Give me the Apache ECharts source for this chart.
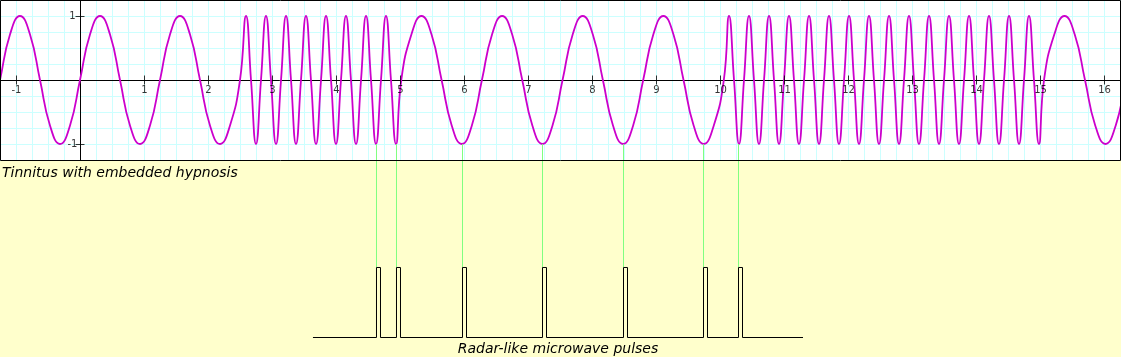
<!DOCTYPE html>
<html><head><meta charset="utf-8">
<script src="https://cdn.jsdelivr.net/npm/echarts@6/dist/echarts.min.js"></script>
<style>html,body{margin:0;padding:0;background:#ffffcc}#c{width:1121px;height:357px}</style>
</head><body><div id="c"></div>
<script>
// ---- data ----
const xTickLabels = [-1,1,2,3,4,5,6,7,8,9,10,11,12,13,14,15,16];
const yTickLabels = [-1,1];

const slowWave1 = [[-1.563,-1],[-1.406,-0.71],[-1.25,0],[-1.094,0.71],[-0.938,1],[-0.781,0.71],[-0.625,0],[-0.469,-0.71],[-0.313,-1],[-0.156,-0.71],[0,0],[0.156,0.71],[0.313,1],[0.469,0.71],[0.625,0],[0.781,-0.71],[0.938,-1],[1.094,-0.71],[1.25,0],[1.406,0.71],[1.563,1],[1.719,0.71],[1.875,0],[2.031,-0.71],[2.188,-1],[2.344,-0.71],[2.5,0]];

const fastWave1 = [[2.594,1],[2.672,0],[2.75,-1],[2.828,0],[2.906,1],[2.984,0],[3.063,-1],[3.141,0],[3.219,1],[3.297,0],[3.375,-1],[3.453,0],[3.531,1],[3.609,0],[3.688,-1],[3.766,0],[3.844,1],[3.922,0],[4.0,-1],[4.078,0],[4.156,1],[4.234,0],[4.313,-1],[4.391,0],[4.469,1],[4.547,0],[4.625,-1],[4.703,0],[4.781,1],[4.859,0],[4.938,-1]];

const slowWave2 = [[5.02,0],[5.178,0.71],[5.335,1],[5.493,0.71],[5.65,0],[5.808,-0.71],[5.965,-1],[6.123,-0.71],[6.28,0],[6.438,0.71],[6.595,1],[6.753,0.71],[6.91,0],[7.068,-0.71],[7.225,-1],[7.383,-0.71],[7.54,0],[7.698,0.71],[7.855,1],[8.013,0.71],[8.17,0],[8.328,-0.71],[8.485,-1],[8.643,-0.71],[8.8,0],[8.958,0.71],[9.115,1],[9.273,0.71],[9.43,0],[9.588,-0.71],[9.745,-1],[9.903,-0.71],[10.06,0]];

const fastWave2 = [[10.141,1],[10.219,0],[10.297,-1],[10.375,0],[10.453,1],[10.531,0],[10.609,-1],[10.688,0],[10.766,1],[10.844,0],[10.922,-1],[11.0,0],[11.078,1],[11.156,0],[11.234,-1],[11.313,0],[11.391,1],[11.469,0],[11.547,-1],[11.625,0],[11.703,1],[11.781,0],[11.859,-1],[11.938,0],[12.016,1],[12.094,0],[12.172,-1],[12.25,0],[12.328,1],[12.406,0],[12.484,-1],[12.563,0],[12.641,1],[12.719,0],[12.797,-1],[12.875,0],[12.953,1],[13.031,0],[13.109,-1],[13.188,0],[13.266,1],[13.344,0],[13.422,-1],[13.5,0],[13.578,1],[13.656,0],[13.734,-1],[13.813,0],[13.891,1],[13.969,0],[14.047,-1],[14.125,0],[14.203,1],[14.281,0],[14.359,-1],[14.438,0],[14.516,1],[14.594,0],[14.672,-1],[14.75,0],[14.828,1],[14.906,0],[14.984,-1]];

const slowWave3 = [[15.063,0],[15.223,0.71],[15.383,1],[15.543,0.71],[15.703,0],[15.863,-0.71],[16.023,-1],[16.183,-0.71],[16.343,0],[16.503,0.71]];

const pulseStarts = [4.6328, 4.9453, 5.9766, 7.2266, 8.4922, 9.7422, 10.2891];
const pulseWidth = 0.0625;
const pulseHigh = 1;
const pulseBaseline = [3.64, 11.297];

const waveTitle = 'Tinnitus with embedded hypnosis';
const pulseTitle = 'Radar-like microwave pulses';

// ---- build ----
const waveData = [].concat(slowWave1, fastWave1, slowWave2, fastWave2, slowWave3);
const pulseData = [[pulseBaseline[0], 0]];
pulseStarts.forEach(s => {
  pulseData.push([s, 0], [s, pulseHigh], [s + pulseWidth, pulseHigh], [s + pulseWidth, 0]);
});
pulseData.push([pulseBaseline[1], 0]);

const X_MIN = -1.25, X_MAX = 16.25, Y2_MAX = 2.764;
const greenData = [];
pulseStarts.forEach(s => { greenData.push([s, pulseHigh], [s, Y2_MAX], [s, '-']); });

const FONT = 'DejaVu Sans';
const tickLabelStyle = {fontSize: 10, fontFamily: FONT, color: '#000'};
const chart = echarts.init(document.getElementById('c'), null, {renderer: 'canvas'});
chart.setOption({
  backgroundColor: '#ffffcc',
  animation: false,
  grid: [
    {left: 0, top: 0, width: 1120, height: 160, show: true, backgroundColor: '#ffffff',
     borderWidth: 0, containLabel: false, outerBoundsMode: 'none'},
    {left: 0, top: 144, width: 1120, height: 193.5, show: false, containLabel: false, outerBoundsMode: 'none'}
  ],
  xAxis: [
    {type: 'value', gridIndex: 0, min: X_MIN, max: X_MAX, interval: 0.25,
     axisLine: {onZero: true, lineStyle: {color: '#000', width: 1}},
     axisTick: {show: false}, axisLabel: {show: false},
     splitLine: {show: true, lineStyle: {color: '#ccffff', width: 1}}},
    {type: 'value', gridIndex: 1, min: X_MIN, max: X_MAX, show: false}
  ],
  yAxis: [
    {type: 'value', gridIndex: 0, min: -1.25, max: 1.25, interval: 0.25,
     axisLine: {onZero: true, lineStyle: {color: '#000', width: 1}},
     axisTick: {show: false}, axisLabel: {show: false},
     splitLine: {show: true, lineStyle: {color: '#ccffff', width: 1}}},
    {type: 'value', gridIndex: 1, min: 0, max: Y2_MAX, show: false}
  ],
  series: [
    {type: 'line', xAxisIndex: 0, yAxisIndex: 0, data: waveData, smooth: true,
     symbol: 'none', showSymbol: false, clip: true, silent: true,
     lineStyle: {color: '#cc00cc', width: 1.8}, z: 3},
    {type: 'scatter', xAxisIndex: 0, yAxisIndex: 0, data: xTickLabels.map(v => [v, 0]),
     symbol: 'rect', symbolSize: [1, 9], symbolOffset: [0.5, 0], silent: true,
     itemStyle: {color: '#000'}, z: 5,
     label: Object.assign({show: true, position: 'bottom', distance: 1,
       formatter: p => String(p.value[0])}, tickLabelStyle)},
    {type: 'scatter', xAxisIndex: 0, yAxisIndex: 0, data: yTickLabels.map(v => [0, v]),
     symbol: 'rect', symbolSize: [9, 1], symbolOffset: [0, 0.5], silent: true,
     itemStyle: {color: '#000'}, z: 5,
     label: Object.assign({show: true, position: 'inside', offset: [-7.5, 0], align: 'center',
       verticalAlign: 'middle', formatter: p => String(p.value[1])}, tickLabelStyle)},
    {type: 'line', xAxisIndex: 1, yAxisIndex: 1, data: greenData, symbol: 'none',
     connectNulls: false, silent: true, clip: false,
     lineStyle: {color: '#80ff80', width: 1}, z: 6},
    {type: 'line', xAxisIndex: 1, yAxisIndex: 1, data: pulseData, symbol: 'none',
     silent: true, clip: false, lineStyle: {color: '#000', width: 1}, z: 7}
  ],
  graphic: {elements: [
    {type: 'rect', shape: {x: 0.5, y: 0.5, width: 1120, height: 160},
     style: {fill: 'none', stroke: '#000', lineWidth: 1}, z: 100, silent: true},
    {type: 'text', x: 2, y: 173, z: 100,
     style: {text: waveTitle, font: 'italic 14px "' + FONT + '"', fill: '#000', align: 'left', verticalAlign: 'middle'}},
    {type: 'text', x: 558, y: 349, z: 100,
     style: {text: pulseTitle, font: 'italic 14px "' + FONT + '"', fill: '#000', align: 'center', verticalAlign: 'middle'}}
  ]}
});
</script>
</body></html>
